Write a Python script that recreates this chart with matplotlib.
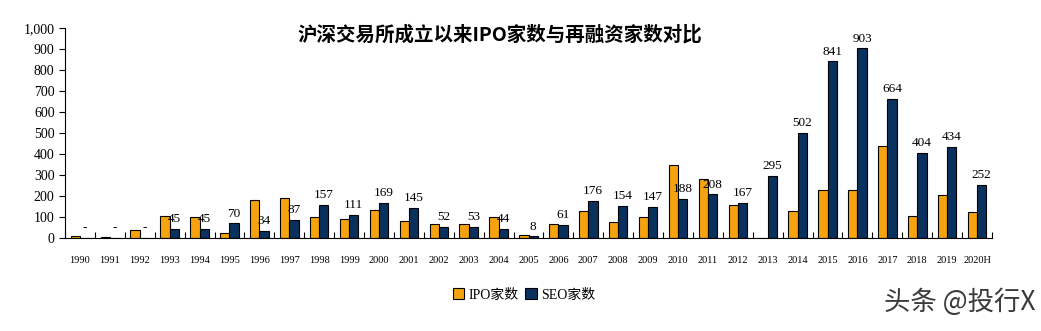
import matplotlib.pyplot as plt
import numpy as np

years = ['1990', '1991', '1992', '1993', '1994', '1995', '1996', '1997', '1998', '1999',
         '2000', '2001', '2002', '2003', '2004', '2005', '2006', '2007', '2008', '2009',
         '2010', '2011', '2012', '2013', '2014', '2015', '2016', '2017', '2018', '2019', '2020H']
ipo = [8, 5, 40, 106, 101, 24, 180, 190, 100, 90,
       134, 82, 67, 67, 101, 15, 67, 130, 77, 101,
       348, 282, 158, 0, 130, 229, 229, 438, 106, 206, 125]
seo = [0, 0, 0, 45, 45, 70, 34, 87, 157, 111,
       169, 145, 52, 53, 44, 8, 61, 176, 154, 147,
       188, 208, 167, 295, 502, 841, 903, 664, 404, 434, 252]
seo_labels = ['-', '-', '-'] + [str(v) for v in seo[3:]]

serif = ['Liberation Serif', 'Noto Sans CJK SC']
orange = '#F7A30F'
navy = '#0A315E'

fig = plt.figure(figsize=(10.41, 3.31), dpi=100)
ax = fig.add_axes([65 / 1041, 1 - 238 / 331, 927 / 1041, 210 / 331])

x = np.arange(len(years))
w = 0.31
ax.bar(x - w / 2, ipo, w, color=orange, edgecolor='black', linewidth=0.8, label='IPO家数')
ax.bar(x + w / 2, seo, w, color=navy, edgecolor='black', linewidth=0.8, label='SEO家数')

for xi, v, lab in zip(x, seo, seo_labels):
    ax.text(xi + w / 2, v + 18, lab, ha='center', va='bottom', fontsize=9.5, family=serif)

ax.set_xlim(-0.5, len(years) - 0.5)
ax.set_ylim(0, 1000)
ax.set_yticks(range(0, 1001, 100))
ax.set_yticklabels([f'{v:,}' for v in range(0, 1001, 100)], family=serif, fontsize=10)
ax.set_xticks(x)
ax.set_xticklabels(years, family=serif, fontsize=7.5)
ax.set_xticks(np.arange(-0.5, len(years)), minor=True)
ax.tick_params(axis='x', which='major', length=0, pad=13)
ax.tick_params(axis='x', which='minor', direction='in', length=4, width=0.8)
ax.tick_params(axis='y', direction='out', length=4, width=0.8)
for s in ['top', 'right']:
    ax.spines[s].set_visible(False)

fig.text(500 / 1041, 1 - 35 / 331, '沪深交易所成立以来IPO家数与再融资家数对比', ha='center', va='center',
         fontsize=14, fontweight='bold', family=['Noto Sans CJK SC', 'DejaVu Sans'])

fig.legend(loc='center', bbox_to_anchor=(524 / 1041, 1 - 295 / 331), ncol=2, frameon=False,
           prop={'family': serif, 'size': 10}, handlelength=0.8, handleheight=0.8,
           handletextpad=0.3, columnspacing=0.5)

fig.text(1036 / 1041, 1 - 302 / 331, '头条 @投行X', ha='right', va='center', fontsize=19,
         color='#3a3a3a', family=['Noto Sans CJK SC', 'DejaVu Sans'])

fig.savefig('out.png', dpi=100)
